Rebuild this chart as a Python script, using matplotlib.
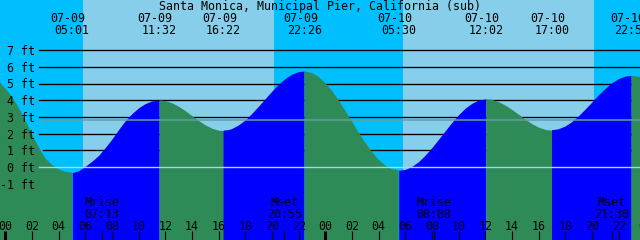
import matplotlib
matplotlib.use("Agg")
import matplotlib.pyplot as plt
import numpy as np

# ---------------- data ----------------
title = "Santa Monica, Municipal Pier, California (sub)"

# tide curve readings (hours since 07-09 00:00, feet)
curve_hours = [-0.4, 0, 0.5, 1, 1.5, 2, 2.5, 3, 3.5, 4, 4.5, 5.017,
               5.5, 6, 6.5, 7, 7.5, 8, 8.5, 9, 9.5, 10, 10.5, 11, 11.533,
               12, 12.5, 13, 13.5, 14, 14.5, 15, 15.5, 16, 16.367,
               16.75, 17, 17.5, 18, 18.5, 19, 19.5, 20, 20.5, 21, 21.5, 22, 22.433,
               23, 23.5, 24, 24.5, 25, 25.5, 26, 26.5, 27, 27.5, 28, 28.5, 29, 29.5,
               30, 30.5, 31, 31.5, 32, 32.5, 33, 33.5, 34, 34.5, 35, 35.5, 36.033,
               36.5, 37, 37.5, 38, 38.5, 39, 39.5, 40, 40.5, 41.0,
               41.5, 42, 42.5, 43, 43.5, 44, 44.5, 45, 45.5, 46, 46.5, 46.967, 47.6]
curve_ft = [5.05, 4.70, 4.20, 3.55, 2.78, 1.97, 1.18, 0.52, 0.13, -0.13, -0.29, -0.34,
            -0.22, 0.05, 0.35, 0.70, 1.17, 1.68, 2.25, 2.78, 3.20, 3.55, 3.80, 3.96, 4.02,
            3.98, 3.84, 3.63, 3.37, 3.07, 2.78, 2.52, 2.32, 2.20, 2.18,
            2.21, 2.27, 2.48, 2.77, 3.16, 3.59, 4.04, 4.49, 4.91, 5.25, 5.52, 5.68, 5.72,
            5.63, 5.39, 5.03, 4.56, 3.99, 3.37, 2.72, 2.06, 1.45, 0.90, 0.43, 0.09, -0.13, -0.20,
            -0.14, 0.04, 0.33, 0.72, 1.17, 1.67, 2.18, 2.68, 3.14, 3.53, 3.82, 4.01, 4.08,
            4.04, 3.91, 3.70, 3.44, 3.15, 2.86, 2.59, 2.38, 2.25, 2.20,
            2.26, 2.42, 2.68, 3.02, 3.42, 3.84, 4.27, 4.66, 5.00, 5.25, 5.41, 5.46, 5.40]

# high / low tide events
ext_hours = [5.017, 11.533, 16.367, 22.433, 29.5, 36.033, 41.0, 46.967]
ext_dates = ["07-09", "07-09", "07-09", "07-09", "07-10", "07-10", "07-10", "07-10"]
ext_times = ["05:01", "11:32", "16:22", "22:26", "05:30", "12:02", "17:00", "22:58"]

# sun (daylight intervals)
sunrise_hours = [5.83, 29.83]
sunset_hours = [20.15, 44.15]

# moon events
moon_hours = [7.22, 20.92, 32.13, 45.5]
moon_names = ["Mrise", "Mset", "Mrise", "Mset"]
moon_times = ["07:13", "20:55", "08:08", "21:30"]

# axis labels
ft_levels = [7, 6, 5, 4, 3, 2, 1, 0, -1]
hour_ticks = list(range(0, 49, 2))
hour_labels = ["%02d" % (h % 24) for h in hour_ticks]
mean_level = 2.80

# ---------------- style ----------------
W, H = 640, 240
NIGHT = "#00BFFF"
DAY = "#87CEEB"
FALL = "#2E8B57"
RISE = "#0000FF"
FONT = dict(family="DejaVu Sans Mono", size=8.4, color="black")

fig = plt.figure(figsize=(W / 100, H / 100), dpi=100)
ax = fig.add_axes([0, 0, 1, 1])
ax.set_xlim(-0.4, 47.6)
ax.set_ylim(-4.37, 10.0)
ax.axis("off")

def fy(py):
    return 1 - py / H

xt = ax.get_xaxis_transform()

# sky
ax.axvspan(-0.4, 47.6, color=NIGHT, lw=0, zorder=0)
for sr, ss in zip(sunrise_hours, sunset_hours):
    ax.axvspan(sr, ss, color=DAY, lw=0, zorder=0.5)

# black level lines
for lv in ft_levels:
    if lv <= 0:
        continue
    start = 43 if lv == 1 else 39
    ax.axhline(lv, xmin=start / W, xmax=1, color="black", lw=0.95, zorder=1)

# tide fill
ch = np.array(curve_hours)
cf = np.array(curve_ft)
bounds = [ch[0]] + ext_hours + [ch[-1]]
for a, b in zip(bounds[:-1], bounds[1:]):
    m = (ch >= a - 1e-9) & (ch <= b + 1e-9)
    seg_h, seg_f = ch[m], cf[m]
    col = RISE if seg_f[-1] > seg_f[0] else FALL
    ax.fill_between(seg_h, seg_f, -10, color=col, lw=0, zorder=2,
                    antialiased=True)

# datum and mean lines
ax.axhline(0, xmin=39 / W, xmax=1, color="#A8D8E8", lw=1.0, zorder=3)
ax.axhline(mean_level, xmin=39 / W, xmax=1, color="#5FA0A0", lw=1.1, zorder=3)

# title
ax.text(0.5, fy(10), title, transform=ax.transAxes, ha="center",
        va="baseline", zorder=5, **FONT)

# event labels
px_per_hr = W / 48.0
for t, d, s in zip(ext_hours, ext_dates, ext_times):
    ax.text(t - 4 / px_per_hr, fy(22), d, transform=xt, ha="center",
            va="baseline", zorder=5, **FONT)
    ax.text(t, fy(34), s, transform=xt, ha="center", va="baseline",
            zorder=5, **FONT)

# ft labels
for lv in ft_levels:
    py = 167 - 16.7 * lv
    ax.text(35 / W, fy(py + 5), "%d ft" % lv, transform=ax.transAxes,
            ha="right", va="baseline", zorder=5, **FONT)

# moon labels
for t, n, s in zip(moon_hours, moon_names, moon_times):
    ax.text(t, fy(206), n, transform=xt, ha="center", va="baseline",
            zorder=5, **FONT)
    ax.text(t, fy(217.5), s, transform=xt, ha="center", va="baseline",
            zorder=5, **FONT)

# hour labels and ticks
for h, lab in zip(hour_ticks, hour_labels):
    ax.text(h, fy(229.5), lab, transform=xt, ha="center", va="baseline",
            zorder=5, **FONT)
    lw = 2.2 if h % 24 == 0 else 0.8
    ax.vlines(h, 0, 9.5 / H, transform=xt, color="black", lw=lw, zorder=5)
ax.vlines(moon_hours, 0, 9.5 / H, transform=xt, color="black", lw=0.8, zorder=5)

fig.savefig("out.png", dpi=100)
